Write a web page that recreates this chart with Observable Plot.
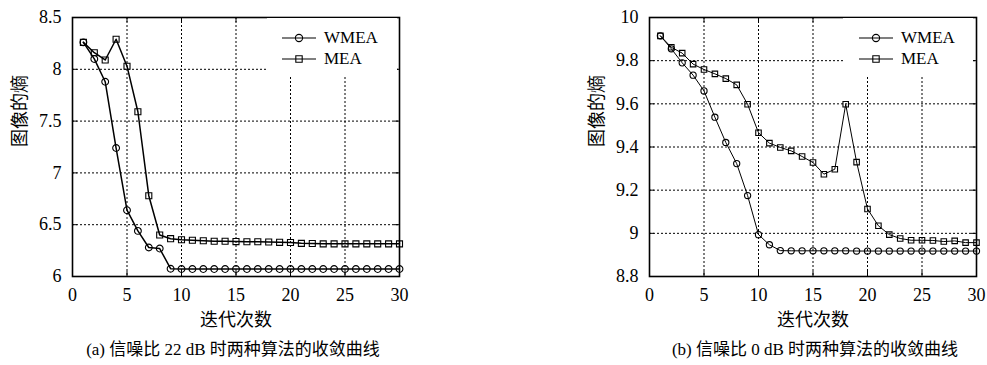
<!DOCTYPE html>
<html><head><meta charset="utf-8">
<script src="https://cdn.jsdelivr.net/npm/d3@7"></script>
<script src="https://cdn.jsdelivr.net/npm/@observablehq/plot@0.6"></script>
<style>
body{margin:0;background:#fff;}
#root{position:relative;width:987px;height:365px;font-family:'Liberation Serif','Noto Sans CJK SC',serif;color:#000;}
.panel{position:absolute;top:0;}
.panel svg, .panel svg text{font-family:'Liberation Serif','Noto Sans CJK SC',serif !important;}
.caption{position:absolute;top:339px;font-size:17px;line-height:22px;white-space:nowrap;transform:translateX(-50%);}
.legend{position:absolute;background:#fff;}
.lrow{position:absolute;left:0;height:18px;line-height:18px;font-size:17px;white-space:nowrap;}
.lrow svg{position:absolute;left:0;top:2px;}
.lrow span{position:absolute;}
</style></head>
<body><div id="root"></div>
<script>
// ---- data ----
const iterations = [1,2,3,4,5,6,7,8,9,10,11,12,13,14,15,16,17,18,19,20,21,22,23,24,25,26,27,28,29,30];
const seriesNames = ["WMEA","MEA"];

// (a) SNR 22 dB
const wmeaA = [8.26,8.10,7.88,7.24,6.64,6.44,6.28,6.27,6.075,6.072,6.072,6.072,6.072,6.072,6.072,6.072,6.072,6.072,6.072,6.072,6.072,6.072,6.072,6.072,6.072,6.072,6.072,6.072,6.072,6.072];
const meaA  = [8.26,8.16,8.09,8.29,8.03,7.59,6.78,6.40,6.365,6.355,6.35,6.345,6.34,6.34,6.337,6.335,6.335,6.333,6.33,6.328,6.32,6.318,6.315,6.315,6.315,6.315,6.315,6.315,6.315,6.315];

// (b) SNR 0 dB
const wmeaB = [9.915,9.855,9.79,9.733,9.66,9.538,9.421,9.323,9.175,8.994,8.947,8.92,8.919,8.919,8.919,8.919,8.919,8.919,8.918,8.918,8.918,8.918,8.918,8.918,8.918,8.918,8.918,8.918,8.918,8.918];
const meaB  = [9.915,9.862,9.835,9.784,9.759,9.739,9.717,9.688,9.598,9.466,9.418,9.398,9.382,9.356,9.328,9.274,9.297,9.598,9.33,9.113,9.035,8.994,8.976,8.968,8.968,8.967,8.962,8.965,8.957,8.957];

const xTicks = [0,5,10,15,20,25,30];
const xGrid = [5,10,15,20,25];
const yTicksA = [6,6.5,7,7.5,8,8.5];
const yLabelsA = ["6","6.5","7","7.5","8","8.5"];
const yGridA = [6.5,7,7.5,8];
const yTicksB = [8.8,9,9.2,9.4,9.6,9.8,10];
const yLabelsB = ["8.8","9","9.2","9.4","9.6","9.8","10"];
const yGridB = [9,9.2,9.4,9.6,9.8];

const xTitle = "迭代次数";
const yTitle = "图像的熵";
const captionA = "(a) 信噪比 22 dB 时两种算法的收敛曲线";
const captionB = "(b) 信噪比 0 dB 时两种算法的收敛曲线";

const FONT = "Liberation Serif, Noto Sans CJK SC, serif";
const FW = 327, FH = 259; // frame size in px

function makePanel({wmea, mea, yTicks, yLabels, yGrid, lineWidth, r, width, marginRight}) {
  const data = iterations.flatMap((it, i) => [
    {it, v: wmea[i], s: seriesNames[0]},
    {it, v: mea[i], s: seriesNames[1]}
  ]);
  const fmt = d => yLabels[yTicks.indexOf(d)];
  const dash = {stroke: "#000", strokeOpacity: 1, strokeWidth: 1, strokeDasharray: "2,2"};
  return Plot.plot({
    width, height: 335,
    marginLeft: 72, marginRight, marginTop: 17, marginBottom: 59,
    style: {fontFamily: FONT, fontSize: "18px", color: "#000", background: "#fff", overflow: "visible"},
    x: {domain: [0, 30]},
    y: {domain: [yTicks[0], yTicks[yTicks.length - 1]]},
    symbol: {domain: seriesNames, range: ["circle", "square"]},
    marks: [
      Plot.gridX(xGrid, dash),
      Plot.gridY(yGrid, dash),
      Plot.tickX(xTicks, {x: d => d, insetTop: FH - 5, stroke: "#000"}),
      Plot.tickX(xTicks, {x: d => d, insetBottom: FH - 5, stroke: "#000"}),
      Plot.tickY(yTicks, {y: d => d, insetRight: FW - 5, stroke: "#000"}),
      Plot.tickY(yTicks, {y: d => d, insetLeft: FW - 5, stroke: "#000"}),
      Plot.line(data, {x: "it", y: "v", z: "s", stroke: "#000", strokeWidth: lineWidth}),
      Plot.dot(data, {x: "it", y: "v", symbol: "s", r, stroke: "#000", fill: "none", strokeWidth: 1.1}),
      Plot.frame({stroke: "#000", strokeWidth: 1.6}),
      Plot.axisX(xTicks, {tickSize: 0, tickPadding: 12, label: null, fontSize: 18}),
      Plot.axisY(yTicks, {tickSize: 0, tickPadding: 11, tickFormat: fmt, label: null, fontSize: 18}),
      Plot.text([xTitle], {text: d => d, frameAnchor: "bottom", dy: 49, fontSize: 18}),
      Plot.text([yTitle], {text: d => d, frameAnchor: "left", dx: -52, rotate: -90, fontSize: 18})
    ]
  });
}

function symbolSvg(kind, r, lw) {
  const ns = "http://www.w3.org/2000/svg";
  const svg = document.createElementNS(ns, "svg");
  svg.setAttribute("width", 36); svg.setAttribute("height", 14);
  const line = document.createElementNS(ns, "line");
  line.setAttribute("x1", 0); line.setAttribute("x2", 34); line.setAttribute("y1", 7); line.setAttribute("y2", 7);
  line.setAttribute("stroke", "#000"); line.setAttribute("stroke-width", lw);
  svg.appendChild(line);
  const p = document.createElementNS(ns, "path");
  const sym = kind === "circle" ? d3.symbolCircle : d3.symbolSquare;
  p.setAttribute("d", d3.symbol(sym, Math.PI * r * r)());
  p.setAttribute("transform", "translate(17,7)");
  p.setAttribute("fill", "none"); p.setAttribute("stroke", "#000"); p.setAttribute("stroke-width", 1.1);
  svg.appendChild(p);
  return svg;
}

function addLegend(parent, left, lineX, textX, r, lw) {
  const box = document.createElement("div");
  box.className = "legend";
  Object.assign(box.style, {left: left + "px", top: "18px", width: "130px", height: "57px"});
  seriesNames.forEach((name, i) => {
    const row = document.createElement("div");
    row.className = "lrow";
    row.style.top = (i === 0 ? 11 : 32) + "px";
    row.style.width = "130px";
    const s = symbolSvg(i === 0 ? "circle" : "square", r, lw);
    s.style.left = lineX + "px";
    row.appendChild(s);
    const t = document.createElement("span");
    t.textContent = name;
    t.style.left = textX + "px";
    row.appendChild(t);
    box.appendChild(row);
  });
  parent.appendChild(box);
}

const root = document.getElementById("root");

// panel (a)
const pa = document.createElement("div");
pa.className = "panel"; pa.style.left = "0px";
pa.appendChild(makePanel({wmea: wmeaA, mea: meaA, yTicks: yTicksA, yLabels: yLabelsA, yGrid: yGridA, lineWidth: 1.5, r: 3.4, width: 420, marginRight: 21}));
addLegend(pa, 267, 15, 57, 3.6, 1.2);
root.appendChild(pa);

// panel (b)
const pb = document.createElement("div");
pb.className = "panel"; pb.style.left = "577px";
pb.appendChild(makePanel({wmea: wmeaB, mea: meaB, yTicks: yTicksB, yLabels: yLabelsB, yGrid: yGridB, lineWidth: 1, r: 3.1, width: 410, marginRight: 11}));
addLegend(pb, 266, 16, 58, 3.6, 1.2);
root.appendChild(pb);

// captions
[[captionA, 233], [captionB, 815]].forEach(([txt, cx]) => {
  const c = document.createElement("div");
  c.className = "caption";
  c.style.left = cx + "px";
  c.textContent = txt;
  root.appendChild(c);
});
</script>
</body></html>
